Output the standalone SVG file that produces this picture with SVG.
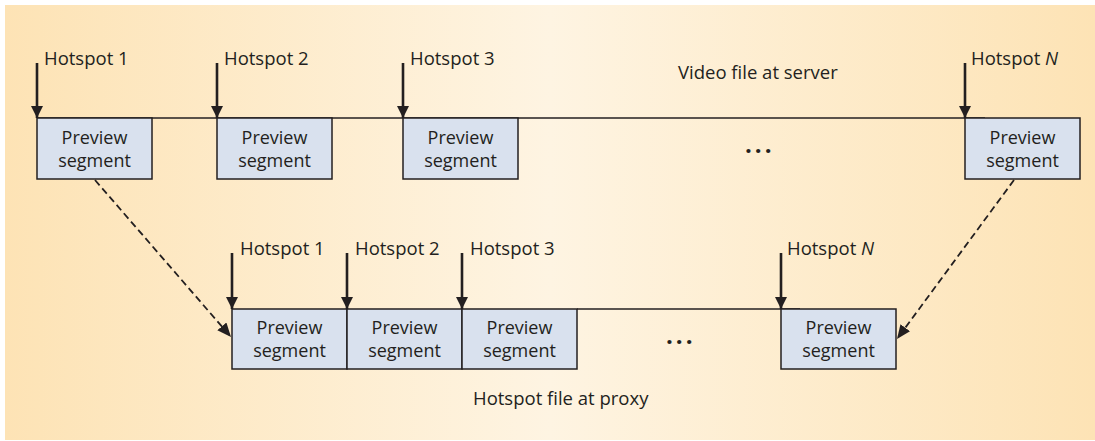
<svg xmlns="http://www.w3.org/2000/svg" width="1095" height="441" viewBox="0 0 1095 441">
<defs>
<linearGradient id="bg" x1="0" y1="0" x2="1" y2="0">
<stop offset="0" stop-color="#fde3b5"/>
<stop offset="0.5" stop-color="#fef4e2"/>
<stop offset="1" stop-color="#fde3b5"/>
</linearGradient>
<marker id="ah" viewBox="0 0 12 12" refX="12" refY="6" markerWidth="12" markerHeight="12" markerUnits="userSpaceOnUse" orient="auto">
<path d="M0,0 L12,6 L0,12 Z" fill="#231f20"/>
</marker>
<marker id="ahd" viewBox="0 0 14 12" refX="14" refY="6" markerWidth="14" markerHeight="12" markerUnits="userSpaceOnUse" orient="auto">
<path d="M0,0 L14,6 L0,12 Z" fill="#231f20"/>
</marker>
<style>
text{font-family:"Open Sans","Noto Sans","Liberation Sans",sans-serif;font-size:18.5px;fill:#231f20}
.box rect{fill:#d9e1ee;stroke:#231f20;stroke-width:1.5}
.box text{text-anchor:middle;font-size:18px}
.hs{stroke:#231f20;stroke-width:2.6;fill:none;marker-end:url(#ah)}
.dash{stroke:#231f20;stroke-width:1.8;stroke-dasharray:7,4;fill:none;marker-end:url(#ahd)}
.tl{stroke:#231f20;stroke-width:1.3}
.dots{font-size:24px;font-weight:bold;letter-spacing:3px}
</style>
</defs>
<rect x="5" y="5" width="1090" height="435" fill="url(#bg)"/>
<line class="tl" x1="37" y1="118" x2="985" y2="118"/>
<line class="tl" x1="577" y1="309" x2="800" y2="309"/>
<text x="678" y="79">Video file at server</text>
<text x="473" y="405">Hotspot file at proxy</text>
<text class="dots" x="745" y="153">...</text>
<text class="dots" x="666" y="344">...</text>

<g id="top-1" class="box"><rect x="37" y="118" width="115" height="61"/><text x="94.5" y="144">Preview</text><text x="94.5" y="167">segment</text></g>
<g id="top-2" class="box"><rect x="217" y="118" width="115" height="61"/><text x="274.5" y="144">Preview</text><text x="274.5" y="167">segment</text></g>
<g id="top-3" class="box"><rect x="403" y="118" width="115" height="61"/><text x="460.5" y="144">Preview</text><text x="460.5" y="167">segment</text></g>
<g id="top-N" class="box"><rect x="965" y="118" width="115" height="61"/><text x="1022.5" y="144">Preview</text><text x="1022.5" y="167">segment</text></g>

<g id="bot-1" class="box"><rect x="232" y="309" width="115" height="60"/><text x="289.5" y="334">Preview</text><text x="289.5" y="357">segment</text></g>
<g id="bot-2" class="box"><rect x="347" y="309" width="115" height="60"/><text x="404.5" y="334">Preview</text><text x="404.5" y="357">segment</text></g>
<g id="bot-3" class="box"><rect x="462" y="309" width="115" height="60"/><text x="519.5" y="334">Preview</text><text x="519.5" y="357">segment</text></g>
<g id="bot-N" class="box"><rect x="781" y="309" width="115" height="60"/><text x="838.5" y="334">Preview</text><text x="838.5" y="357">segment</text></g>

<g id="hotspots-top">
<text x="44" y="65">Hotspot 1</text>
<text x="224" y="65">Hotspot 2</text>
<text x="410" y="65">Hotspot 3</text>
<text x="971" y="65">Hotspot <tspan font-style="italic">N</tspan></text>
</g>
<g id="hotspots-bottom">
<text x="240" y="255">Hotspot 1</text>
<text x="355" y="255">Hotspot 2</text>
<text x="470" y="255">Hotspot 3</text>
<text x="787" y="255">Hotspot <tspan font-style="italic">N</tspan></text>
</g>

<g id="connectors">
<line class="hs" x1="37" y1="63" x2="37" y2="118"/>
<line class="hs" x1="217" y1="63" x2="217" y2="118"/>
<line class="hs" x1="403" y1="63" x2="403" y2="118"/>
<line class="hs" x1="965" y1="63" x2="965" y2="118"/>
<line class="hs" x1="232" y1="253" x2="232" y2="309"/>
<line class="hs" x1="347" y1="253" x2="347" y2="309"/>
<line class="hs" x1="462" y1="253" x2="462" y2="309"/>
<line class="hs" x1="781" y1="253" x2="781" y2="309"/>
<line class="dash" x1="95" y1="180" x2="231" y2="337"/>
<line class="dash" x1="1014" y1="180" x2="897" y2="339"/>
</g>
</svg>
